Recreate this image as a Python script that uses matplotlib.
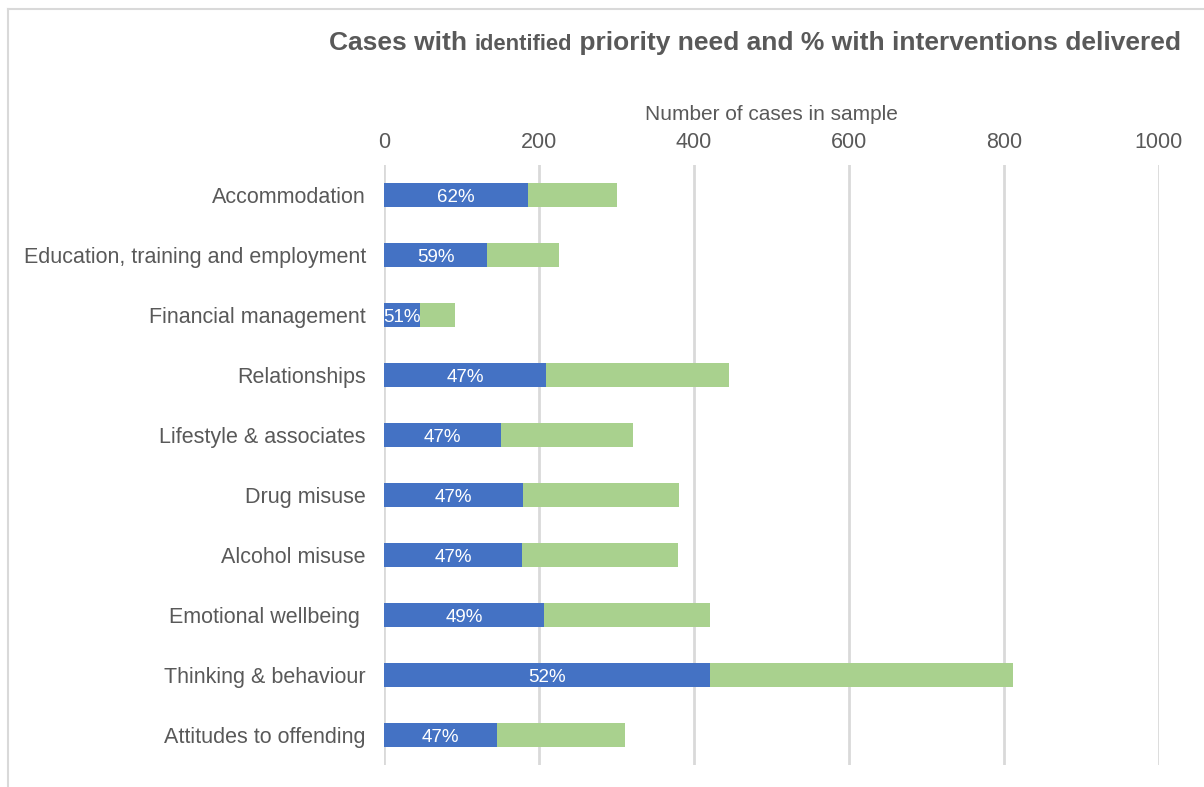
import matplotlib
matplotlib.use("Agg")
import matplotlib.pyplot as plt
from matplotlib.lines import Line2D

categories = ["Accommodation", "Education, training and employment", "Financial management",
              "Relationships", "Lifestyle & associates", "Drug misuse", "Alcohol misuse",
              "Emotional wellbeing ", "Thinking & behaviour", "Attitudes to offending"]
delivered = [186, 133, 47, 209, 151, 179, 178, 206, 421, 146]
totals = [300, 226, 92, 445, 321, 381, 379, 421, 812, 311]
pct_labels = ["62%", "59%", "51%", "47%", "47%", "47%", "47%", "49%", "52%", "47%"]
xticks = [0, 200, 400, 600, 800, 1000]

remaining = [t - d for t, d in zip(totals, delivered)]

plt.rcParams['font.family'] = ['Liberation Sans', 'DejaVu Sans']
GRAY = "#595959"
BLUE = "#4472C4"
GREEN = "#A9D18E"
GRID = "#D9D9D9"

W, H = 1204, 787
fig = plt.figure(figsize=(W / 100, H / 100), dpi=100)
ax = fig.add_axes([384 / W, 1 - 765 / H, (1159 - 384) / W, (765 - 165) / H])

y = list(range(len(categories)))
ax.barh(y, delivered, height=0.4, color=BLUE, zorder=3)
ax.barh(y, remaining, left=delivered, height=0.4, color=GREEN, zorder=3)

for yi, d, lab in zip(y, delivered, pct_labels):
    ax.text(d / 2, yi, lab, ha="center", va="center_baseline", color="white", fontsize=13.5, zorder=4)

ax.set_xlim(0, 1000)
ax.set_ylim(len(categories) - 0.5, -0.5)
ax.set_xticks(xticks)
ax.set_xticklabels([str(v) for v in xticks])
ax.xaxis.tick_top()
ax.xaxis.set_label_position("top")
ax.set_xlabel("Number of cases in sample", fontsize=15, color=GRAY, labelpad=8.5)
ax.tick_params(axis="x", length=0, pad=9, labelsize=15.5, labelcolor=GRAY)
ax.set_yticks(y)
ax.set_yticklabels(categories)
ax.tick_params(axis="y", length=0, pad=13, labelsize=15.5, labelcolor=GRAY)
for s in ax.spines.values():
    s.set_visible(False)
ax.grid(axis="x", color=GRID, linewidth=2, zorder=0)
ax.set_axisbelow(True)

# frame border
fig.add_artist(Line2D([8 / W, 8 / W], [0, 1 - 9 / H], color=GRID, linewidth=1.5))
fig.add_artist(Line2D([8 / W, 1], [1 - 9 / H, 1 - 9 / H], color=GRID, linewidth=1.5))

# title with mixed sizes
parts = [("Cases with ", 19), ("identified", 15.8), (" priority need and % with interventions delivered", 19)]
fig.canvas.draw()
renderer = fig.canvas.get_renderer()
x = 329 / W
ty = 1 - 50 / H
for txt, fs in parts:
    t = fig.text(x, ty, txt, fontsize=fs, fontweight="bold", color=GRAY, ha="left", va="baseline")
    bb = t.get_window_extent(renderer=renderer)
    x += bb.width / W

fig.savefig("out.png", dpi=100)
